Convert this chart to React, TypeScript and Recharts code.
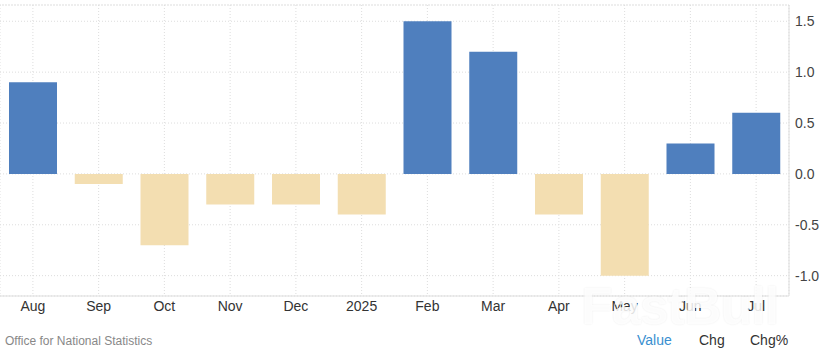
import React from 'react';
import {
  Bar,
  BarChart,
  CartesianGrid,
  Cell,
  ReferenceLine,
  XAxis,
  YAxis,
} from 'recharts';

const months = ['Aug', 'Sep', 'Oct', 'Nov', 'Dec', '2025', 'Feb', 'Mar', 'Apr', 'May', 'Jun', 'Jul'];
const values = [0.9, -0.1, -0.7, -0.3, -0.3, -0.4, 1.5, 1.2, -0.4, -1.0, 0.3, 0.6];
const yTicks = [-1.0, -0.5, 0, 0.5, 1.0, 1.5];
const yDomain = [-1.2, 1.66];

const data = months.map((m, i) => ({ month: m, value: values[i] }));

const font = '"Liberation Sans", Arial, sans-serif';

const App = () => {
  return (
    <div style={{ position: 'absolute', left: 0, top: 0, width: 832, height: 359, background: '#fff', fontFamily: font }}>
      <BarChart
        width={832}
        height={320}
        data={data}
        margin={{ top: 5, right: 0, left: 0, bottom: 0 }}
        barSize={48}
      >
        <CartesianGrid stroke="#ddd" strokeDasharray="1 2" />
        <ReferenceLine y={yDomain[1]} stroke="#ddd" strokeDasharray="1 2" />
        <XAxis
          dataKey="month"
          height={24}
          tickLine={false}
          tickSize={0}
          tickMargin={5}
          axisLine={{ stroke: '#ddd' }}
          tick={{ fill: '#333', fontSize: 14, fontFamily: font }}
          interval={0}
        />
        <YAxis
          orientation="right"
          width={43}
          domain={yDomain}
          ticks={yTicks}
          allowDataOverflow
          tickFormatter={(v: number) => v.toFixed(1)}
          tickLine={false}
          tickSize={4}
          tickMargin={2}
          axisLine={{ stroke: '#ddd' }}
          tick={{ fill: '#444', fontSize: 14, fontFamily: font, textAnchor: 'start' }}
        />
        <Bar dataKey="value" isAnimationActive={false}>
          {data.map((d, i) => (
            <Cell key={i} fill={d.value >= 0 ? '#4f7fbe' : '#f3deb1'} />
          ))}
        </Bar>
      </BarChart>
      <div
        style={{
          position: 'absolute',
          left: 581,
          top: 276,
          fontSize: 52,
          fontWeight: 'bold',
          color: 'rgba(255,255,255,0.85)',
          textShadow: '0 0 2px rgba(0,0,0,0.08)',
          letterSpacing: -1,
          pointerEvents: 'none',
        }}
      >
        FastBull
      </div>
      <div style={{ position: 'absolute', left: 5, top: 334, fontSize: 12, color: '#888' }}>
        Office for National Statistics
      </div>
      <div style={{ position: 'absolute', left: 637, top: 332, fontSize: 14, color: '#3a8fd0' }}>Value</div>
      <div style={{ position: 'absolute', left: 699, top: 332, fontSize: 14, color: '#333' }}>Chg</div>
      <div style={{ position: 'absolute', left: 750, top: 332, fontSize: 14, color: '#333' }}>Chg%</div>
    </div>
  );
};

export default App;
